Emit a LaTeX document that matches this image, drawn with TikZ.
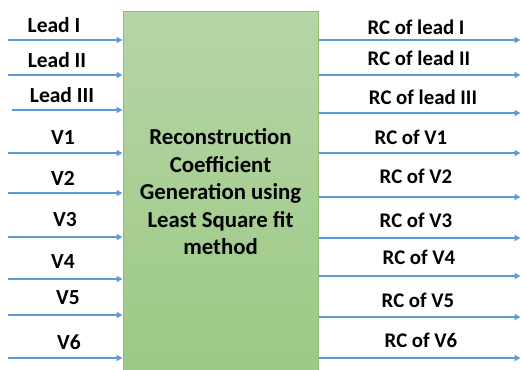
\documentclass[tikz,border=0pt]{standalone}
\usepackage{fontspec}
\setmainfont{Carlito}
\usetikzlibrary{arrows.meta}
\definecolor{arrblue}{HTML}{5B9BD5}
\definecolor{gtop}{HTML}{B5D5A6}
\definecolor{gbot}{HTML}{9CC985}
\definecolor{gborder}{HTML}{8CBF70}
\tikzset{
  arr/.style={draw=arrblue, line width=1.7pt, -{Triangle[length=6pt,width=6pt]}},
  lab/.style={font=\fontsize{21.5}{24}\selectfont\bfseries, inner sep=0pt},
  rlab/.style={font=\fontsize{20.8}{24}\selectfont\bfseries, inner sep=0pt},
  mainbox/.style={draw=gborder, line width=1pt, top color=gtop, bottom color=gbot,
    minimum width=195pt, minimum height=360pt, inner sep=0pt,
    align=center, font=\fontsize{22.8}{27.5}\selectfont\bfseries}
}
\begin{document}
\begin{tikzpicture}[x=1pt,y=1pt]
\useasboundingbox (0,0) rectangle (521,-369);
\node[mainbox] (box) at (220.5,-192) {Reconstruction\\Coefficient\\Generation using\\Least Square fit\\method};
% left inputs
\foreach \n/\t/\lx/\ly/\ay/\sx in {
  a/Lead I/54/-25/-40/8,
  b/Lead II/57/-60/-75/8,
  c/Lead III/62/-95/-110/12,
  d/V1/63/-138/-153/8,
  e/V2/63/-178/-193/8,
  f/V3/65/-220/-237/8,
  g/V4/63/-262/-279/8,
  h/V5/68/-298/-315/8,
  i/V6/69/-342/-358/8}{
  \node[lab] (in\n) at (\lx,\ly) {\t};
  \coordinate (s\n) at (\sx,\ay);
  \draw[arr] (s\n) -- (s\n -| box.west);
}
% right outputs
\foreach \n/\t/\lx/\ly/\ay in {
  a/RC of lead I/416/-27/-40,
  b/RC of lead II/419/-58/-75,
  c/RC of lead III/423/-97/-113,
  d/RC of V1/411/-137/-153,
  e/RC of V2/416/-176/-197,
  f/RC of V3/416/-220/-238,
  g/RC of V4/419/-257/-276,
  h/RC of V5/418/-300/-317,
  i/RC of V6/421/-340/-358}{
  \node[rlab] (out\n) at (\lx,\ly) {\t};
  \coordinate (e\n) at (520.5,\ay);
  \draw[arr] (e\n -| box.east) -- (e\n);
}
\end{tikzpicture}
\end{document}
